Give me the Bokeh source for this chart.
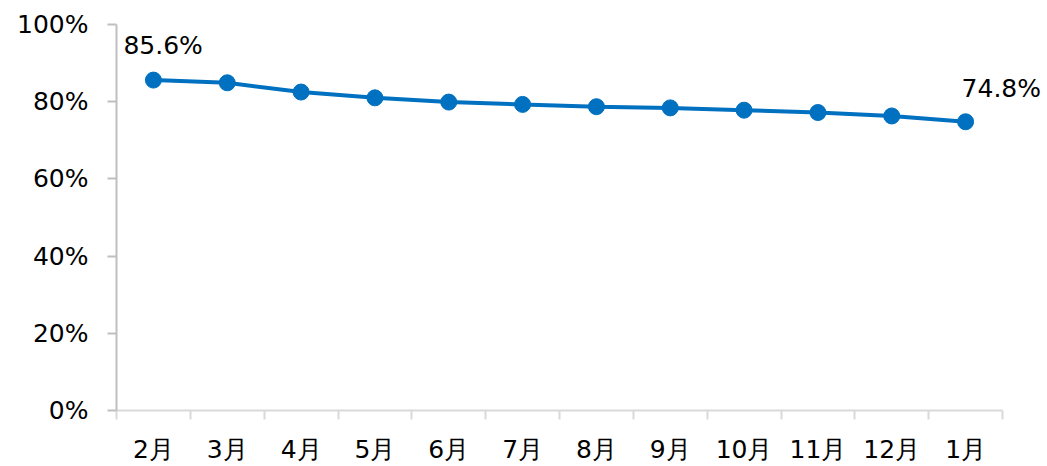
from bokeh.plotting import figure
from bokeh.models import FixedTicker, Label, Range1d
from bokeh.embed import file_html
from bokeh.resources import INLINE

months = ["2月", "3月", "4月", "5月", "6月", "7月", "8月", "9月", "10月", "11月", "12月", "1月"]
rates = [85.6, 84.9, 82.5, 81.0, 79.9, 79.3, 78.7, 78.4, 77.8, 77.2, 76.3, 74.8]
y_ticks = [0, 20, 40, 60, 80, 100]

FONT = "DejaVu Sans"
FS = "25px"
BLUE = "#0070c0"

n = len(months)
xs = [i + 0.5 for i in range(n)]

# frame spans from x=116 to page edge; categories occupy 116..1002
frame_left, axis_right, page_w = 116, 1002, 1047
x_end = n * (page_w - frame_left) / (axis_right - frame_left)

p = figure(width=page_w, height=466, output_backend="svg", toolbar_location=None,
           x_range=Range1d(0, x_end), y_range=Range1d(0, 100),
           min_border_left=frame_left, min_border_right=0, min_border_top=24, min_border_bottom=55)
p.outline_line_color = None
p.grid.grid_line_color = None
p.background_fill_color = "white"
p.border_fill_color = "white"

# x axis
xa = p.xaxis[0]
xa.bounds = (0, n)
xa.ticker = FixedTicker(ticks=xs, minor_ticks=list(range(n + 1)))
xa.major_label_overrides = {x: m for x, m in zip(xs, months)}
xa.major_tick_out = 0
xa.major_tick_in = 0
xa.minor_tick_out = 9
xa.minor_tick_in = 0
xa.minor_tick_line_color = "#d9d9d9"
xa.minor_tick_line_width = 2
xa.axis_line_color = "#d9d9d9"
xa.axis_line_width = 2
xa.major_label_text_font = FONT
xa.major_label_text_font_size = FS
xa.major_label_text_color = "black"
xa.major_label_standoff = 15

# y axis
ya = p.yaxis[0]
ya.ticker = FixedTicker(ticks=y_ticks, minor_ticks=[])
ya.major_label_overrides = {t: f"{t}%" for t in y_ticks}
ya.major_tick_out = 9
ya.major_tick_in = 0
ya.major_tick_line_color = "#bfbfbf"
ya.major_tick_line_width = 2
ya.axis_line_color = "#bfbfbf"
ya.axis_line_width = 2
ya.major_label_text_font = FONT
ya.major_label_text_font_size = FS
ya.major_label_text_color = "black"
ya.major_label_standoff = 19

p.line(xs, rates, line_color=BLUE, line_width=4)
p.scatter(xs, rates, size=16, fill_color=BLUE, line_color=BLUE)

p.add_layout(Label(x=xs[0], y=rates[0], text=f"{rates[0]}%", x_offset=-30, y_offset=35,
                   text_font=FONT, text_font_size=FS, text_color="black",
                   text_baseline="alphabetic", text_align="left"))
p.add_layout(Label(x=xs[-1], y=rates[-1], text=f"{rates[-1]}%", x_offset=-4, y_offset=33,
                   text_font=FONT, text_font_size=FS, text_color="black",
                   text_baseline="alphabetic", text_align="left"))

open("out.html", "w").write(file_html(p, INLINE))
